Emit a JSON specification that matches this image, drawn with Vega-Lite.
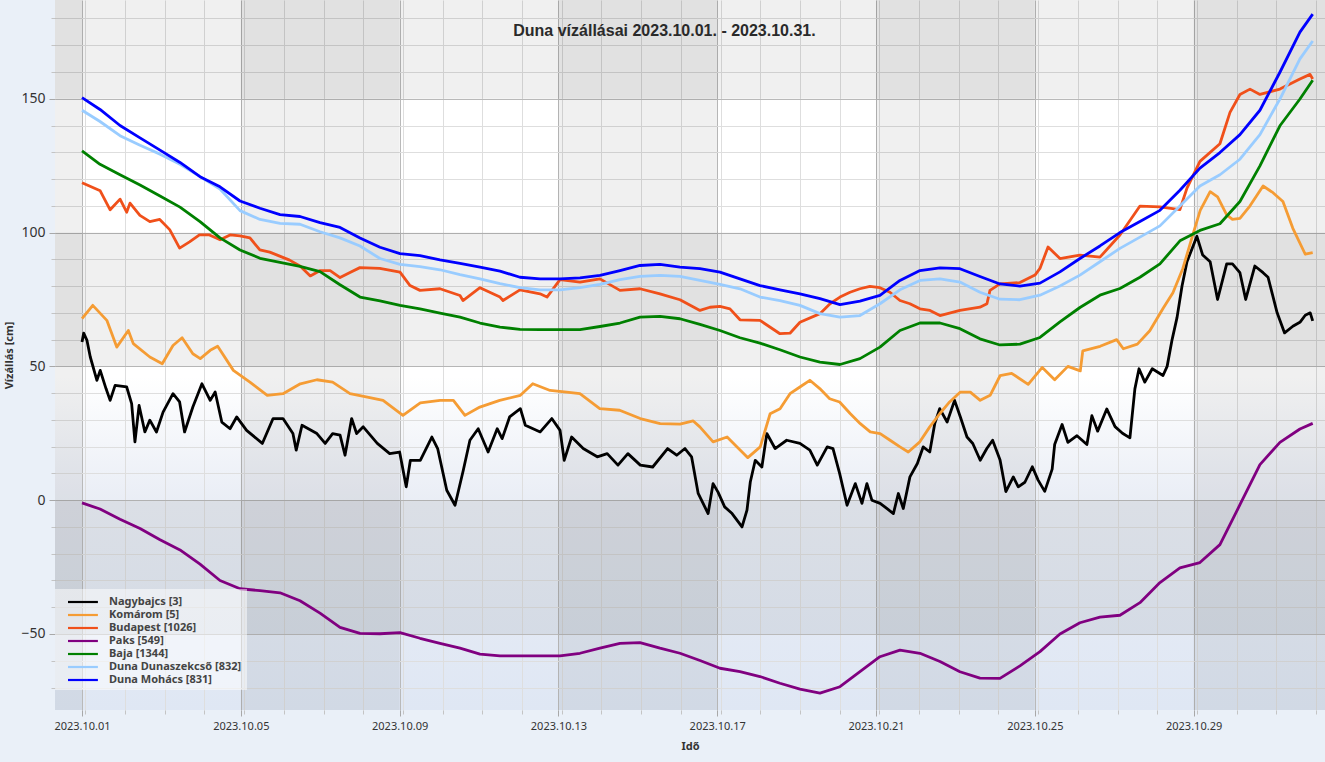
{
  "$schema": "https://vega.github.io/schema/vega-lite/v6.json",
  "description": "Duna vízállásai 2023.10.01. - 2023.10.31.",
  "width": 1270,
  "height": 710,
  "autosize": {"type": "none"},
  "padding": {"left": 55, "top": 0, "right": 0, "bottom": 52},
  "background": "#eaf0f8",
  "config": {
    "font": "Noto Sans",
    "view": {
      "stroke": null,
      "fill": {
        "gradient": "linear", "x1": 0, "y1": 0, "x2": 0, "y2": 1,
        "stops": [
          {"offset": 0, "color": "#ffffff"},
          {"offset": 0.53, "color": "#ffffff"},
          {"offset": 0.71, "color": "#e9edf5"},
          {"offset": 1, "color": "#dfe7f4"}
        ]
      }
    }
  },
  "title": {
    "text": "Duna vízállásai 2023.10.01. - 2023.10.31.",
    "font": "Liberation Sans",
    "fontSize": 16,
    "fontWeight": "bold",
    "color": "#2a2a2a",
    "anchor": "middle",
    "frame": "bounds",
    "baseline": "bottom",
    "offset": -55
  },
  "datasets": {
    "columns": [
      {"from": "2023-09-30T07:40", "to": "2023-10-01T00:00"},
      {"from": "2023-10-05T00:00", "to": "2023-10-09T00:00"},
      {"from": "2023-10-13T00:00", "to": "2023-10-17T00:00"},
      {"from": "2023-10-21T00:00", "to": "2023-10-25T00:00"},
      {"from": "2023-10-29T00:00", "to": "2023-11-01T07:26"}
    ],
    "rows": [
      {"from": 150, "to": 186.9},
      {"from": 50, "to": 100},
      {"from": -50, "to": 0}
    ],
    "levels": [
      {"station": "Nagybajcs [3]", "time": "2023-10-01T00:00", "level": 59.1},
      {"station": "Nagybajcs [3]", "time": "2023-10-01T01:00", "level": 62.4},
      {"station": "Nagybajcs [3]", "time": "2023-10-01T03:00", "level": 59.7},
      {"station": "Nagybajcs [3]", "time": "2023-10-01T05:00", "level": 53.5},
      {"station": "Nagybajcs [3]", "time": "2023-10-01T09:00", "level": 44.8},
      {"station": "Nagybajcs [3]", "time": "2023-10-01T11:00", "level": 48.5},
      {"station": "Nagybajcs [3]", "time": "2023-10-01T14:30", "level": 41.7},
      {"station": "Nagybajcs [3]", "time": "2023-10-01T17:00", "level": 37.3},
      {"station": "Nagybajcs [3]", "time": "2023-10-01T20:00", "level": 42.9},
      {"station": "Nagybajcs [3]", "time": "2023-10-02T03:00", "level": 42.3},
      {"station": "Nagybajcs [3]", "time": "2023-10-02T06:00", "level": 36.1},
      {"station": "Nagybajcs [3]", "time": "2023-10-02T08:00", "level": 21.8},
      {"station": "Nagybajcs [3]", "time": "2023-10-02T10:30", "level": 35.4},
      {"station": "Nagybajcs [3]", "time": "2023-10-02T14:00", "level": 25.5},
      {"station": "Nagybajcs [3]", "time": "2023-10-02T17:00", "level": 29.9},
      {"station": "Nagybajcs [3]", "time": "2023-10-02T21:00", "level": 25.5},
      {"station": "Nagybajcs [3]", "time": "2023-10-03T01:00", "level": 32.9},
      {"station": "Nagybajcs [3]", "time": "2023-10-03T07:00", "level": 39.8},
      {"station": "Nagybajcs [3]", "time": "2023-10-03T11:00", "level": 36.7},
      {"station": "Nagybajcs [3]", "time": "2023-10-03T14:00", "level": 25.5},
      {"station": "Nagybajcs [3]", "time": "2023-10-03T19:00", "level": 34.8},
      {"station": "Nagybajcs [3]", "time": "2023-10-04T00:30", "level": 43.5},
      {"station": "Nagybajcs [3]", "time": "2023-10-04T05:30", "level": 37.3},
      {"station": "Nagybajcs [3]", "time": "2023-10-04T08:30", "level": 40.4},
      {"station": "Nagybajcs [3]", "time": "2023-10-04T12:30", "level": 29.2},
      {"station": "Nagybajcs [3]", "time": "2023-10-04T17:30", "level": 26.7},
      {"station": "Nagybajcs [3]", "time": "2023-10-04T21:30", "level": 31.1},
      {"station": "Nagybajcs [3]", "time": "2023-10-05T03:30", "level": 26.1},
      {"station": "Nagybajcs [3]", "time": "2023-10-05T13:00", "level": 21.2},
      {"station": "Nagybajcs [3]", "time": "2023-10-05T19:30", "level": 30.5},
      {"station": "Nagybajcs [3]", "time": "2023-10-06T01:30", "level": 30.5},
      {"station": "Nagybajcs [3]", "time": "2023-10-06T07:30", "level": 24.9},
      {"station": "Nagybajcs [3]", "time": "2023-10-06T09:30", "level": 18.7},
      {"station": "Nagybajcs [3]", "time": "2023-10-06T13:00", "level": 28.0},
      {"station": "Nagybajcs [3]", "time": "2023-10-06T22:00", "level": 24.9},
      {"station": "Nagybajcs [3]", "time": "2023-10-07T03:00", "level": 21.2},
      {"station": "Nagybajcs [3]", "time": "2023-10-07T07:30", "level": 24.9},
      {"station": "Nagybajcs [3]", "time": "2023-10-07T12:00", "level": 24.3},
      {"station": "Nagybajcs [3]", "time": "2023-10-07T15:00", "level": 16.8},
      {"station": "Nagybajcs [3]", "time": "2023-10-07T19:00", "level": 30.5},
      {"station": "Nagybajcs [3]", "time": "2023-10-07T22:00", "level": 24.9},
      {"station": "Nagybajcs [3]", "time": "2023-10-08T02:00", "level": 27.4},
      {"station": "Nagybajcs [3]", "time": "2023-10-08T10:30", "level": 21.2},
      {"station": "Nagybajcs [3]", "time": "2023-10-08T18:00", "level": 17.4},
      {"station": "Nagybajcs [3]", "time": "2023-10-09T00:00", "level": 18.0},
      {"station": "Nagybajcs [3]", "time": "2023-10-09T04:00", "level": 5.0},
      {"station": "Nagybajcs [3]", "time": "2023-10-09T06:30", "level": 14.9},
      {"station": "Nagybajcs [3]", "time": "2023-10-09T12:30", "level": 14.9},
      {"station": "Nagybajcs [3]", "time": "2023-10-09T19:30", "level": 23.6},
      {"station": "Nagybajcs [3]", "time": "2023-10-09T23:00", "level": 19.3},
      {"station": "Nagybajcs [3]", "time": "2023-10-10T04:30", "level": 3.7},
      {"station": "Nagybajcs [3]", "time": "2023-10-10T09:30", "level": -1.9},
      {"station": "Nagybajcs [3]", "time": "2023-10-10T14:30", "level": 11.2},
      {"station": "Nagybajcs [3]", "time": "2023-10-10T18:30", "level": 22.4},
      {"station": "Nagybajcs [3]", "time": "2023-10-10T23:30", "level": 26.7},
      {"station": "Nagybajcs [3]", "time": "2023-10-11T05:30", "level": 18.0},
      {"station": "Nagybajcs [3]", "time": "2023-10-11T11:00", "level": 26.7},
      {"station": "Nagybajcs [3]", "time": "2023-10-11T14:00", "level": 23.0},
      {"station": "Nagybajcs [3]", "time": "2023-10-11T18:30", "level": 31.1},
      {"station": "Nagybajcs [3]", "time": "2023-10-12T01:00", "level": 34.2},
      {"station": "Nagybajcs [3]", "time": "2023-10-12T04:00", "level": 28.0},
      {"station": "Nagybajcs [3]", "time": "2023-10-12T13:00", "level": 25.5},
      {"station": "Nagybajcs [3]", "time": "2023-10-12T20:00", "level": 30.5},
      {"station": "Nagybajcs [3]", "time": "2023-10-13T01:00", "level": 26.1},
      {"station": "Nagybajcs [3]", "time": "2023-10-13T03:30", "level": 14.9},
      {"station": "Nagybajcs [3]", "time": "2023-10-13T08:00", "level": 23.6},
      {"station": "Nagybajcs [3]", "time": "2023-10-13T15:00", "level": 19.3},
      {"station": "Nagybajcs [3]", "time": "2023-10-13T23:30", "level": 16.2},
      {"station": "Nagybajcs [3]", "time": "2023-10-14T05:30", "level": 17.4},
      {"station": "Nagybajcs [3]", "time": "2023-10-14T12:00", "level": 13.1},
      {"station": "Nagybajcs [3]", "time": "2023-10-14T18:00", "level": 17.4},
      {"station": "Nagybajcs [3]", "time": "2023-10-15T01:30", "level": 13.1},
      {"station": "Nagybajcs [3]", "time": "2023-10-15T09:00", "level": 12.4},
      {"station": "Nagybajcs [3]", "time": "2023-10-15T18:00", "level": 19.3},
      {"station": "Nagybajcs [3]", "time": "2023-10-15T23:30", "level": 16.8},
      {"station": "Nagybajcs [3]", "time": "2023-10-16T04:30", "level": 19.3},
      {"station": "Nagybajcs [3]", "time": "2023-10-16T08:30", "level": 16.2},
      {"station": "Nagybajcs [3]", "time": "2023-10-16T12:30", "level": 2.5},
      {"station": "Nagybajcs [3]", "time": "2023-10-16T18:30", "level": -5.0},
      {"station": "Nagybajcs [3]", "time": "2023-10-16T21:30", "level": 6.2},
      {"station": "Nagybajcs [3]", "time": "2023-10-17T00:30", "level": 3.0},
      {"station": "Nagybajcs [3]", "time": "2023-10-17T04:30", "level": -2.5},
      {"station": "Nagybajcs [3]", "time": "2023-10-17T09:00", "level": -5.0},
      {"station": "Nagybajcs [3]", "time": "2023-10-17T15:00", "level": -10.0},
      {"station": "Nagybajcs [3]", "time": "2023-10-17T18:00", "level": -3.7},
      {"station": "Nagybajcs [3]", "time": "2023-10-17T20:00", "level": 6.8},
      {"station": "Nagybajcs [3]", "time": "2023-10-17T23:00", "level": 14.9},
      {"station": "Nagybajcs [3]", "time": "2023-10-18T03:00", "level": 12.4},
      {"station": "Nagybajcs [3]", "time": "2023-10-18T06:00", "level": 24.9},
      {"station": "Nagybajcs [3]", "time": "2023-10-18T11:00", "level": 19.3},
      {"station": "Nagybajcs [3]", "time": "2023-10-18T18:00", "level": 22.4},
      {"station": "Nagybajcs [3]", "time": "2023-10-19T02:00", "level": 21.2},
      {"station": "Nagybajcs [3]", "time": "2023-10-19T08:00", "level": 18.7},
      {"station": "Nagybajcs [3]", "time": "2023-10-19T12:30", "level": 13.1},
      {"station": "Nagybajcs [3]", "time": "2023-10-19T18:30", "level": 19.9},
      {"station": "Nagybajcs [3]", "time": "2023-10-19T22:00", "level": 19.3},
      {"station": "Nagybajcs [3]", "time": "2023-10-20T02:00", "level": 10.0},
      {"station": "Nagybajcs [3]", "time": "2023-10-20T06:30", "level": -1.9},
      {"station": "Nagybajcs [3]", "time": "2023-10-20T11:30", "level": 6.2},
      {"station": "Nagybajcs [3]", "time": "2023-10-20T15:30", "level": -1.2},
      {"station": "Nagybajcs [3]", "time": "2023-10-20T18:30", "level": 6.2},
      {"station": "Nagybajcs [3]", "time": "2023-10-20T21:30", "level": 0.0},
      {"station": "Nagybajcs [3]", "time": "2023-10-21T02:30", "level": -1.2},
      {"station": "Nagybajcs [3]", "time": "2023-10-21T06:30", "level": -3.1},
      {"station": "Nagybajcs [3]", "time": "2023-10-21T10:30", "level": -5.0},
      {"station": "Nagybajcs [3]", "time": "2023-10-21T13:30", "level": 2.5},
      {"station": "Nagybajcs [3]", "time": "2023-10-21T16:30", "level": -3.1},
      {"station": "Nagybajcs [3]", "time": "2023-10-21T20:30", "level": 8.7},
      {"station": "Nagybajcs [3]", "time": "2023-10-22T01:00", "level": 13.7},
      {"station": "Nagybajcs [3]", "time": "2023-10-22T04:30", "level": 19.9},
      {"station": "Nagybajcs [3]", "time": "2023-10-22T08:30", "level": 18.0},
      {"station": "Nagybajcs [3]", "time": "2023-10-22T11:30", "level": 28.6},
      {"station": "Nagybajcs [3]", "time": "2023-10-22T14:30", "level": 34.2},
      {"station": "Nagybajcs [3]", "time": "2023-10-22T19:00", "level": 29.2},
      {"station": "Nagybajcs [3]", "time": "2023-10-22T23:30", "level": 37.3},
      {"station": "Nagybajcs [3]", "time": "2023-10-23T03:00", "level": 31.1},
      {"station": "Nagybajcs [3]", "time": "2023-10-23T07:00", "level": 23.6},
      {"station": "Nagybajcs [3]", "time": "2023-10-23T10:30", "level": 21.2},
      {"station": "Nagybajcs [3]", "time": "2023-10-23T15:00", "level": 14.9},
      {"station": "Nagybajcs [3]", "time": "2023-10-23T19:00", "level": 19.3},
      {"station": "Nagybajcs [3]", "time": "2023-10-23T22:30", "level": 22.4},
      {"station": "Nagybajcs [3]", "time": "2023-10-24T03:00", "level": 15.0},
      {"station": "Nagybajcs [3]", "time": "2023-10-24T06:30", "level": 3.2},
      {"station": "Nagybajcs [3]", "time": "2023-10-24T11:00", "level": 8.7},
      {"station": "Nagybajcs [3]", "time": "2023-10-24T14:00", "level": 5.0},
      {"station": "Nagybajcs [3]", "time": "2023-10-24T18:00", "level": 6.7},
      {"station": "Nagybajcs [3]", "time": "2023-10-24T22:30", "level": 12.5},
      {"station": "Nagybajcs [3]", "time": "2023-10-25T02:00", "level": 7.5},
      {"station": "Nagybajcs [3]", "time": "2023-10-25T06:00", "level": 3.3},
      {"station": "Nagybajcs [3]", "time": "2023-10-25T10:30", "level": 11.6},
      {"station": "Nagybajcs [3]", "time": "2023-10-25T12:00", "level": 20.8},
      {"station": "Nagybajcs [3]", "time": "2023-10-25T16:30", "level": 28.3},
      {"station": "Nagybajcs [3]", "time": "2023-10-25T20:00", "level": 21.6},
      {"station": "Nagybajcs [3]", "time": "2023-10-26T01:30", "level": 24.1},
      {"station": "Nagybajcs [3]", "time": "2023-10-26T07:30", "level": 20.8},
      {"station": "Nagybajcs [3]", "time": "2023-10-26T10:30", "level": 31.6},
      {"station": "Nagybajcs [3]", "time": "2023-10-26T14:00", "level": 25.8},
      {"station": "Nagybajcs [3]", "time": "2023-10-26T19:30", "level": 34.1},
      {"station": "Nagybajcs [3]", "time": "2023-10-27T00:30", "level": 27.5},
      {"station": "Nagybajcs [3]", "time": "2023-10-27T05:00", "level": 25.0},
      {"station": "Nagybajcs [3]", "time": "2023-10-27T09:30", "level": 23.3},
      {"station": "Nagybajcs [3]", "time": "2023-10-27T12:30", "level": 41.6},
      {"station": "Nagybajcs [3]", "time": "2023-10-27T15:00", "level": 49.1},
      {"station": "Nagybajcs [3]", "time": "2023-10-27T18:30", "level": 44.1},
      {"station": "Nagybajcs [3]", "time": "2023-10-27T23:00", "level": 49.1},
      {"station": "Nagybajcs [3]", "time": "2023-10-28T05:30", "level": 46.6},
      {"station": "Nagybajcs [3]", "time": "2023-10-28T08:00", "level": 50.0},
      {"station": "Nagybajcs [3]", "time": "2023-10-28T11:00", "level": 60.0},
      {"station": "Nagybajcs [3]", "time": "2023-10-28T14:00", "level": 68.3},
      {"station": "Nagybajcs [3]", "time": "2023-10-28T17:00", "level": 80.0},
      {"station": "Nagybajcs [3]", "time": "2023-10-28T20:00", "level": 89.1},
      {"station": "Nagybajcs [3]", "time": "2023-10-29T02:00", "level": 98.6},
      {"station": "Nagybajcs [3]", "time": "2023-10-29T05:30", "level": 91.6},
      {"station": "Nagybajcs [3]", "time": "2023-10-29T10:00", "level": 89.1},
      {"station": "Nagybajcs [3]", "time": "2023-10-29T14:30", "level": 75.0},
      {"station": "Nagybajcs [3]", "time": "2023-10-29T20:00", "level": 88.3},
      {"station": "Nagybajcs [3]", "time": "2023-10-29T23:30", "level": 88.3},
      {"station": "Nagybajcs [3]", "time": "2023-10-30T04:00", "level": 85.0},
      {"station": "Nagybajcs [3]", "time": "2023-10-30T07:30", "level": 75.0},
      {"station": "Nagybajcs [3]", "time": "2023-10-30T13:00", "level": 87.5},
      {"station": "Nagybajcs [3]", "time": "2023-10-30T18:00", "level": 85.0},
      {"station": "Nagybajcs [3]", "time": "2023-10-30T21:00", "level": 83.3},
      {"station": "Nagybajcs [3]", "time": "2023-10-31T02:30", "level": 70.0},
      {"station": "Nagybajcs [3]", "time": "2023-10-31T07:00", "level": 62.5},
      {"station": "Nagybajcs [3]", "time": "2023-10-31T12:00", "level": 65.0},
      {"station": "Nagybajcs [3]", "time": "2023-10-31T16:30", "level": 66.6},
      {"station": "Nagybajcs [3]", "time": "2023-10-31T19:30", "level": 69.1},
      {"station": "Nagybajcs [3]", "time": "2023-10-31T22:30", "level": 70.0},
      {"station": "Nagybajcs [3]", "time": "2023-11-01T00:00", "level": 67.0},

      {"station": "Komárom [5]", "time": "2023-10-01T00:00", "level": 67.8},
      {"station": "Komárom [5]", "time": "2023-10-01T06:30", "level": 72.8},
      {"station": "Komárom [5]", "time": "2023-10-01T15:00", "level": 67.2},
      {"station": "Komárom [5]", "time": "2023-10-01T21:00", "level": 57.2},
      {"station": "Komárom [5]", "time": "2023-10-02T04:00", "level": 63.4},
      {"station": "Komárom [5]", "time": "2023-10-02T07:00", "level": 58.5},
      {"station": "Komárom [5]", "time": "2023-10-02T17:00", "level": 53.5},
      {"station": "Komárom [5]", "time": "2023-10-03T00:30", "level": 51.0},
      {"station": "Komárom [5]", "time": "2023-10-03T07:00", "level": 57.8},
      {"station": "Komárom [5]", "time": "2023-10-03T12:30", "level": 60.7},
      {"station": "Komárom [5]", "time": "2023-10-03T19:00", "level": 54.7},
      {"station": "Komárom [5]", "time": "2023-10-03T23:30", "level": 52.9},
      {"station": "Komárom [5]", "time": "2023-10-04T05:30", "level": 56.0},
      {"station": "Komárom [5]", "time": "2023-10-04T10:00", "level": 57.5},
      {"station": "Komárom [5]", "time": "2023-10-04T19:30", "level": 48.5},
      {"station": "Komárom [5]", "time": "2023-10-05T05:30", "level": 44.1},
      {"station": "Komárom [5]", "time": "2023-10-05T16:00", "level": 39.2},
      {"station": "Komárom [5]", "time": "2023-10-06T01:30", "level": 39.8},
      {"station": "Komárom [5]", "time": "2023-10-06T12:00", "level": 43.5},
      {"station": "Komárom [5]", "time": "2023-10-06T22:00", "level": 45.0},
      {"station": "Komárom [5]", "time": "2023-10-07T07:30", "level": 44.1},
      {"station": "Komárom [5]", "time": "2023-10-07T18:00", "level": 39.8},
      {"station": "Komárom [5]", "time": "2023-10-08T04:30", "level": 38.5},
      {"station": "Komárom [5]", "time": "2023-10-08T14:00", "level": 37.3},
      {"station": "Komárom [5]", "time": "2023-10-09T02:00", "level": 31.7},
      {"station": "Komárom [5]", "time": "2023-10-09T12:30", "level": 36.4},
      {"station": "Komárom [5]", "time": "2023-10-10T00:30", "level": 37.3},
      {"station": "Komárom [5]", "time": "2023-10-10T08:30", "level": 37.3},
      {"station": "Komárom [5]", "time": "2023-10-10T15:30", "level": 31.7},
      {"station": "Komárom [5]", "time": "2023-10-11T00:30", "level": 34.8},
      {"station": "Komárom [5]", "time": "2023-10-11T12:30", "level": 37.3},
      {"station": "Komárom [5]", "time": "2023-10-12T01:00", "level": 39.2},
      {"station": "Komárom [5]", "time": "2023-10-12T08:30", "level": 43.5},
      {"station": "Komárom [5]", "time": "2023-10-12T19:00", "level": 41.0},
      {"station": "Komárom [5]", "time": "2023-10-13T05:00", "level": 40.4},
      {"station": "Komárom [5]", "time": "2023-10-13T13:00", "level": 39.8},
      {"station": "Komárom [5]", "time": "2023-10-14T01:00", "level": 34.2},
      {"station": "Komárom [5]", "time": "2023-10-14T13:00", "level": 33.6},
      {"station": "Komárom [5]", "time": "2023-10-15T01:30", "level": 30.5},
      {"station": "Komárom [5]", "time": "2023-10-15T13:30", "level": 28.6},
      {"station": "Komárom [5]", "time": "2023-10-16T01:30", "level": 28.4},
      {"station": "Komárom [5]", "time": "2023-10-16T09:30", "level": 29.6},
      {"station": "Komárom [5]", "time": "2023-10-16T13:30", "level": 27.4},
      {"station": "Komárom [5]", "time": "2023-10-16T21:30", "level": 21.8},
      {"station": "Komárom [5]", "time": "2023-10-17T06:00", "level": 23.6},
      {"station": "Komárom [5]", "time": "2023-10-17T12:00", "level": 19.9},
      {"station": "Komárom [5]", "time": "2023-10-17T18:30", "level": 15.9},
      {"station": "Komárom [5]", "time": "2023-10-18T02:00", "level": 19.9},
      {"station": "Komárom [5]", "time": "2023-10-18T08:00", "level": 32.3},
      {"station": "Komárom [5]", "time": "2023-10-18T14:00", "level": 34.2},
      {"station": "Komárom [5]", "time": "2023-10-18T20:00", "level": 39.8},
      {"station": "Komárom [5]", "time": "2023-10-19T02:00", "level": 42.3},
      {"station": "Komárom [5]", "time": "2023-10-19T08:00", "level": 44.8},
      {"station": "Komárom [5]", "time": "2023-10-19T14:00", "level": 41.7},
      {"station": "Komárom [5]", "time": "2023-10-19T20:00", "level": 37.9},
      {"station": "Komárom [5]", "time": "2023-10-20T02:00", "level": 36.7},
      {"station": "Komárom [5]", "time": "2023-10-20T08:30", "level": 32.3},
      {"station": "Komárom [5]", "time": "2023-10-20T14:30", "level": 28.6},
      {"station": "Komárom [5]", "time": "2023-10-20T20:30", "level": 25.5},
      {"station": "Komárom [5]", "time": "2023-10-21T02:30", "level": 24.9},
      {"station": "Komárom [5]", "time": "2023-10-21T08:30", "level": 22.4},
      {"station": "Komárom [5]", "time": "2023-10-21T14:30", "level": 19.9},
      {"station": "Komárom [5]", "time": "2023-10-21T19:30", "level": 18.0},
      {"station": "Komárom [5]", "time": "2023-10-22T02:30", "level": 21.8},
      {"station": "Komárom [5]", "time": "2023-10-22T08:30", "level": 27.4},
      {"station": "Komárom [5]", "time": "2023-10-22T14:30", "level": 32.3},
      {"station": "Komárom [5]", "time": "2023-10-22T20:30", "level": 36.7},
      {"station": "Komárom [5]", "time": "2023-10-23T03:00", "level": 40.4},
      {"station": "Komárom [5]", "time": "2023-10-23T09:00", "level": 40.4},
      {"station": "Komárom [5]", "time": "2023-10-23T15:00", "level": 37.3},
      {"station": "Komárom [5]", "time": "2023-10-23T21:00", "level": 39.2},
      {"station": "Komárom [5]", "time": "2023-10-24T03:00", "level": 46.5},
      {"station": "Komárom [5]", "time": "2023-10-24T10:00", "level": 47.4},
      {"station": "Komárom [5]", "time": "2023-10-24T20:00", "level": 43.3},
      {"station": "Komárom [5]", "time": "2023-10-25T04:30", "level": 49.6},
      {"station": "Komárom [5]", "time": "2023-10-25T12:00", "level": 45.0},
      {"station": "Komárom [5]", "time": "2023-10-25T20:00", "level": 50.0},
      {"station": "Komárom [5]", "time": "2023-10-26T03:30", "level": 48.3},
      {"station": "Komárom [5]", "time": "2023-10-26T05:00", "level": 55.8},
      {"station": "Komárom [5]", "time": "2023-10-26T15:30", "level": 57.5},
      {"station": "Komárom [5]", "time": "2023-10-27T01:30", "level": 60.0},
      {"station": "Komárom [5]", "time": "2023-10-27T05:30", "level": 56.6},
      {"station": "Komárom [5]", "time": "2023-10-27T14:00", "level": 58.3},
      {"station": "Komárom [5]", "time": "2023-10-27T21:30", "level": 63.3},
      {"station": "Komárom [5]", "time": "2023-10-28T05:30", "level": 71.6},
      {"station": "Komárom [5]", "time": "2023-10-28T11:30", "level": 77.5},
      {"station": "Komárom [5]", "time": "2023-10-28T17:30", "level": 86.6},
      {"station": "Komárom [5]", "time": "2023-10-28T23:30", "level": 99.1},
      {"station": "Komárom [5]", "time": "2023-10-29T04:00", "level": 108.3},
      {"station": "Komárom [5]", "time": "2023-10-29T10:00", "level": 115.3},
      {"station": "Komárom [5]", "time": "2023-10-29T14:30", "level": 113.3},
      {"station": "Komárom [5]", "time": "2023-10-29T20:00", "level": 106.6},
      {"station": "Komárom [5]", "time": "2023-10-29T23:30", "level": 104.9},
      {"station": "Komárom [5]", "time": "2023-10-30T04:00", "level": 105.3},
      {"station": "Komárom [5]", "time": "2023-10-30T10:00", "level": 109.9},
      {"station": "Komárom [5]", "time": "2023-10-30T18:00", "level": 117.4},
      {"station": "Komárom [5]", "time": "2023-10-31T00:00", "level": 114.9},
      {"station": "Komárom [5]", "time": "2023-10-31T06:00", "level": 111.6},
      {"station": "Komárom [5]", "time": "2023-10-31T12:00", "level": 101.6},
      {"station": "Komárom [5]", "time": "2023-10-31T19:30", "level": 91.9},
      {"station": "Komárom [5]", "time": "2023-11-01T00:00", "level": 92.5},

      {"station": "Budapest [1026]", "time": "2023-10-01T00:00", "level": 118.6},
      {"station": "Budapest [1026]", "time": "2023-10-01T11:00", "level": 115.6},
      {"station": "Budapest [1026]", "time": "2023-10-01T17:00", "level": 108.5},
      {"station": "Budapest [1026]", "time": "2023-10-01T23:00", "level": 112.5},
      {"station": "Budapest [1026]", "time": "2023-10-02T03:00", "level": 107.6},
      {"station": "Budapest [1026]", "time": "2023-10-02T05:00", "level": 111.0},
      {"station": "Budapest [1026]", "time": "2023-10-02T11:00", "level": 106.4},
      {"station": "Budapest [1026]", "time": "2023-10-02T17:00", "level": 104.1},
      {"station": "Budapest [1026]", "time": "2023-10-02T23:00", "level": 104.9},
      {"station": "Budapest [1026]", "time": "2023-10-03T05:00", "level": 101.1},
      {"station": "Budapest [1026]", "time": "2023-10-03T11:00", "level": 94.2},
      {"station": "Budapest [1026]", "time": "2023-10-03T17:00", "level": 96.5},
      {"station": "Budapest [1026]", "time": "2023-10-03T23:00", "level": 99.1},
      {"station": "Budapest [1026]", "time": "2023-10-04T05:00", "level": 99.1},
      {"station": "Budapest [1026]", "time": "2023-10-04T11:30", "level": 97.3},
      {"station": "Budapest [1026]", "time": "2023-10-04T17:30", "level": 99.1},
      {"station": "Budapest [1026]", "time": "2023-10-04T23:30", "level": 98.8},
      {"station": "Budapest [1026]", "time": "2023-10-05T05:30", "level": 98.0},
      {"station": "Budapest [1026]", "time": "2023-10-05T11:30", "level": 93.5},
      {"station": "Budapest [1026]", "time": "2023-10-05T17:30", "level": 92.7},
      {"station": "Budapest [1026]", "time": "2023-10-05T23:30", "level": 91.2},
      {"station": "Budapest [1026]", "time": "2023-10-06T05:30", "level": 89.7},
      {"station": "Budapest [1026]", "time": "2023-10-06T12:00", "level": 87.4},
      {"station": "Budapest [1026]", "time": "2023-10-06T18:00", "level": 83.8},
      {"station": "Budapest [1026]", "time": "2023-10-07T00:00", "level": 85.8},
      {"station": "Budapest [1026]", "time": "2023-10-07T06:00", "level": 85.8},
      {"station": "Budapest [1026]", "time": "2023-10-07T12:00", "level": 83.2},
      {"station": "Budapest [1026]", "time": "2023-10-07T18:00", "level": 85.1},
      {"station": "Budapest [1026]", "time": "2023-10-08T00:00", "level": 86.9},
      {"station": "Budapest [1026]", "time": "2023-10-08T12:00", "level": 86.6},
      {"station": "Budapest [1026]", "time": "2023-10-09T00:14", "level": 85.2},
      {"station": "Budapest [1026]", "time": "2023-10-09T06:18", "level": 80.2},
      {"station": "Budapest [1026]", "time": "2023-10-09T12:19", "level": 78.4},
      {"station": "Budapest [1026]", "time": "2023-10-10T00:25", "level": 79.0},
      {"station": "Budapest [1026]", "time": "2023-10-10T12:30", "level": 76.5},
      {"station": "Budapest [1026]", "time": "2023-10-10T14:18", "level": 74.6},
      {"station": "Budapest [1026]", "time": "2023-10-11T00:35", "level": 79.4},
      {"station": "Budapest [1026]", "time": "2023-10-11T12:41", "level": 75.9},
      {"station": "Budapest [1026]", "time": "2023-10-11T14:30", "level": 74.6},
      {"station": "Budapest [1026]", "time": "2023-10-12T00:46", "level": 78.6},
      {"station": "Budapest [1026]", "time": "2023-10-12T12:52", "level": 77.1},
      {"station": "Budapest [1026]", "time": "2023-10-12T17:06", "level": 75.9},
      {"station": "Budapest [1026]", "time": "2023-10-13T00:57", "level": 82.4},
      {"station": "Budapest [1026]", "time": "2023-10-13T13:02", "level": 81.5},
      {"station": "Budapest [1026]", "time": "2023-10-14T01:08", "level": 82.7},
      {"station": "Budapest [1026]", "time": "2023-10-14T13:13", "level": 78.4},
      {"station": "Budapest [1026]", "time": "2023-10-15T01:19", "level": 79.0},
      {"station": "Budapest [1026]", "time": "2023-10-15T13:24", "level": 77.1},
      {"station": "Budapest [1026]", "time": "2023-10-16T01:29", "level": 74.9},
      {"station": "Budapest [1026]", "time": "2023-10-16T13:35", "level": 70.9},
      {"station": "Budapest [1026]", "time": "2023-10-16T19:36", "level": 72.1},
      {"station": "Budapest [1026]", "time": "2023-10-17T01:40", "level": 72.4},
      {"station": "Budapest [1026]", "time": "2023-10-17T07:42", "level": 71.5},
      {"station": "Budapest [1026]", "time": "2023-10-17T13:46", "level": 67.4},
      {"station": "Budapest [1026]", "time": "2023-10-18T01:51", "level": 67.2},
      {"station": "Budapest [1026]", "time": "2023-10-18T13:56", "level": 62.2},
      {"station": "Budapest [1026]", "time": "2023-10-18T20:00", "level": 62.4},
      {"station": "Budapest [1026]", "time": "2023-10-19T02:02", "level": 66.5},
      {"station": "Budapest [1026]", "time": "2023-10-19T14:07", "level": 69.7},
      {"station": "Budapest [1026]", "time": "2023-10-19T20:12", "level": 73.4},
      {"station": "Budapest [1026]", "time": "2023-10-20T02:13", "level": 75.9},
      {"station": "Budapest [1026]", "time": "2023-10-20T08:18", "level": 77.7},
      {"station": "Budapest [1026]", "time": "2023-10-20T14:18", "level": 79.0},
      {"station": "Budapest [1026]", "time": "2023-10-20T20:18", "level": 79.9},
      {"station": "Budapest [1026]", "time": "2023-10-21T02:23", "level": 79.4},
      {"station": "Budapest [1026]", "time": "2023-10-21T08:24", "level": 77.7},
      {"station": "Budapest [1026]", "time": "2023-10-21T14:29", "level": 74.6},
      {"station": "Budapest [1026]", "time": "2023-10-21T20:30", "level": 73.4},
      {"station": "Budapest [1026]", "time": "2023-10-22T02:34", "level": 71.5},
      {"station": "Budapest [1026]", "time": "2023-10-22T08:36", "level": 70.9},
      {"station": "Budapest [1026]", "time": "2023-10-22T14:40", "level": 69.0},
      {"station": "Budapest [1026]", "time": "2023-10-23T02:45", "level": 70.9},
      {"station": "Budapest [1026]", "time": "2023-10-23T14:50", "level": 72.1},
      {"station": "Budapest [1026]", "time": "2023-10-23T19:04", "level": 73.4},
      {"station": "Budapest [1026]", "time": "2023-10-23T20:54", "level": 78.4},
      {"station": "Budapest [1026]", "time": "2023-10-24T02:56", "level": 80.8},
      {"station": "Budapest [1026]", "time": "2023-10-24T15:01", "level": 81.3},
      {"station": "Budapest [1026]", "time": "2023-10-25T00:06", "level": 84.1},
      {"station": "Budapest [1026]", "time": "2023-10-25T03:07", "level": 86.6},
      {"station": "Budapest [1026]", "time": "2023-10-25T08:00", "level": 94.6},
      {"station": "Budapest [1026]", "time": "2023-10-25T15:12", "level": 90.3},
      {"station": "Budapest [1026]", "time": "2023-10-26T03:17", "level": 91.6},
      {"station": "Budapest [1026]", "time": "2023-10-26T15:23", "level": 90.8},
      {"station": "Budapest [1026]", "time": "2023-10-27T03:28", "level": 99.1},
      {"station": "Budapest [1026]", "time": "2023-10-27T15:34", "level": 109.9},
      {"station": "Budapest [1026]", "time": "2023-10-28T03:39", "level": 109.6},
      {"station": "Budapest [1026]", "time": "2023-10-28T15:44", "level": 108.6},
      {"station": "Budapest [1026]", "time": "2023-10-28T20:00", "level": 116.6},
      {"station": "Budapest [1026]", "time": "2023-10-29T03:50", "level": 126.6},
      {"station": "Budapest [1026]", "time": "2023-10-29T15:55", "level": 133.2},
      {"station": "Budapest [1026]", "time": "2023-10-29T22:00", "level": 144.9},
      {"station": "Budapest [1026]", "time": "2023-10-30T04:01", "level": 151.6},
      {"station": "Budapest [1026]", "time": "2023-10-30T10:06", "level": 153.6},
      {"station": "Budapest [1026]", "time": "2023-10-30T16:06", "level": 151.6},
      {"station": "Budapest [1026]", "time": "2023-10-31T04:11", "level": 153.6},
      {"station": "Budapest [1026]", "time": "2023-10-31T16:17", "level": 157.4},
      {"station": "Budapest [1026]", "time": "2023-10-31T22:24", "level": 159.1},
      {"station": "Budapest [1026]", "time": "2023-11-01T00:00", "level": 157.4},

      {"station": "Paks [549]", "time": "2023-10-01T00:00", "level": -1.0},
      {"station": "Paks [549]", "time": "2023-10-01T10:53", "level": -3.3},
      {"station": "Paks [549]", "time": "2023-10-01T22:58", "level": -7.1},
      {"station": "Paks [549]", "time": "2023-10-02T11:04", "level": -10.6},
      {"station": "Paks [549]", "time": "2023-10-02T23:09", "level": -14.8},
      {"station": "Paks [549]", "time": "2023-10-03T11:14", "level": -18.6},
      {"station": "Paks [549]", "time": "2023-10-03T23:20", "level": -23.9},
      {"station": "Paks [549]", "time": "2023-10-04T11:25", "level": -30.0},
      {"station": "Paks [549]", "time": "2023-10-04T23:31", "level": -33.1},
      {"station": "Paks [549]", "time": "2023-10-05T11:36", "level": -33.8},
      {"station": "Paks [549]", "time": "2023-10-05T23:41", "level": -34.6},
      {"station": "Paks [549]", "time": "2023-10-06T11:47", "level": -37.6},
      {"station": "Paks [549]", "time": "2023-10-06T23:52", "level": -42.2},
      {"station": "Paks [549]", "time": "2023-10-07T11:58", "level": -47.5},
      {"station": "Paks [549]", "time": "2023-10-08T00:03", "level": -49.8},
      {"station": "Paks [549]", "time": "2023-10-08T12:08", "level": -49.9},
      {"station": "Paks [549]", "time": "2023-10-09T00:14", "level": -49.5},
      {"station": "Paks [549]", "time": "2023-10-09T12:19", "level": -51.6},
      {"station": "Paks [549]", "time": "2023-10-10T00:25", "level": -53.5},
      {"station": "Paks [549]", "time": "2023-10-10T12:30", "level": -55.3},
      {"station": "Paks [549]", "time": "2023-10-11T00:35", "level": -57.5},
      {"station": "Paks [549]", "time": "2023-10-11T12:41", "level": -58.2},
      {"station": "Paks [549]", "time": "2023-10-12T00:46", "level": -58.2},
      {"station": "Paks [549]", "time": "2023-10-12T12:52", "level": -58.2},
      {"station": "Paks [549]", "time": "2023-10-13T00:57", "level": -58.2},
      {"station": "Paks [549]", "time": "2023-10-13T13:02", "level": -57.2},
      {"station": "Paks [549]", "time": "2023-10-14T01:08", "level": -55.3},
      {"station": "Paks [549]", "time": "2023-10-14T13:13", "level": -53.5},
      {"station": "Paks [549]", "time": "2023-10-15T01:19", "level": -53.2},
      {"station": "Paks [549]", "time": "2023-10-15T13:24", "level": -55.3},
      {"station": "Paks [549]", "time": "2023-10-16T01:29", "level": -57.2},
      {"station": "Paks [549]", "time": "2023-10-16T13:35", "level": -59.9},
      {"station": "Paks [549]", "time": "2023-10-17T01:40", "level": -62.8},
      {"station": "Paks [549]", "time": "2023-10-17T13:46", "level": -64.1},
      {"station": "Paks [549]", "time": "2023-10-18T01:51", "level": -65.9},
      {"station": "Paks [549]", "time": "2023-10-18T13:56", "level": -68.4},
      {"station": "Paks [549]", "time": "2023-10-19T02:02", "level": -70.6},
      {"station": "Paks [549]", "time": "2023-10-19T14:07", "level": -72.1},
      {"station": "Paks [549]", "time": "2023-10-20T02:13", "level": -69.7},
      {"station": "Paks [549]", "time": "2023-10-20T14:18", "level": -64.1},
      {"station": "Paks [549]", "time": "2023-10-21T02:23", "level": -58.5},
      {"station": "Paks [549]", "time": "2023-10-21T14:29", "level": -56.0},
      {"station": "Paks [549]", "time": "2023-10-22T02:34", "level": -57.2},
      {"station": "Paks [549]", "time": "2023-10-22T14:40", "level": -60.3},
      {"station": "Paks [549]", "time": "2023-10-23T02:45", "level": -64.1},
      {"station": "Paks [549]", "time": "2023-10-23T14:50", "level": -66.5},
      {"station": "Paks [549]", "time": "2023-10-24T02:56", "level": -66.6},
      {"station": "Paks [549]", "time": "2023-10-24T15:01", "level": -61.9},
      {"station": "Paks [549]", "time": "2023-10-25T03:07", "level": -56.6},
      {"station": "Paks [549]", "time": "2023-10-25T15:12", "level": -50.0},
      {"station": "Paks [549]", "time": "2023-10-26T03:17", "level": -45.8},
      {"station": "Paks [549]", "time": "2023-10-26T15:23", "level": -43.7},
      {"station": "Paks [549]", "time": "2023-10-27T03:28", "level": -43.0},
      {"station": "Paks [549]", "time": "2023-10-27T15:34", "level": -38.3},
      {"station": "Paks [549]", "time": "2023-10-28T03:39", "level": -30.8},
      {"station": "Paks [549]", "time": "2023-10-28T15:44", "level": -25.3},
      {"station": "Paks [549]", "time": "2023-10-29T03:50", "level": -23.3},
      {"station": "Paks [549]", "time": "2023-10-29T15:55", "level": -16.6},
      {"station": "Paks [549]", "time": "2023-10-30T04:01", "level": -1.7},
      {"station": "Paks [549]", "time": "2023-10-30T16:06", "level": 13.3},
      {"station": "Paks [549]", "time": "2023-10-31T04:11", "level": 21.6},
      {"station": "Paks [549]", "time": "2023-10-31T16:17", "level": 26.6},
      {"station": "Paks [549]", "time": "2023-11-01T00:00", "level": 28.7},

      {"station": "Baja [1344]", "time": "2023-10-01T00:00", "level": 130.5},
      {"station": "Baja [1344]", "time": "2023-10-01T10:53", "level": 125.5},
      {"station": "Baja [1344]", "time": "2023-10-01T22:58", "level": 121.6},
      {"station": "Baja [1344]", "time": "2023-10-02T11:04", "level": 117.8},
      {"station": "Baja [1344]", "time": "2023-10-02T23:09", "level": 113.7},
      {"station": "Baja [1344]", "time": "2023-10-03T11:14", "level": 109.5},
      {"station": "Baja [1344]", "time": "2023-10-03T23:20", "level": 104.1},
      {"station": "Baja [1344]", "time": "2023-10-04T11:25", "level": 98.0},
      {"station": "Baja [1344]", "time": "2023-10-04T23:31", "level": 93.5},
      {"station": "Baja [1344]", "time": "2023-10-05T11:36", "level": 90.4},
      {"station": "Baja [1344]", "time": "2023-10-05T23:41", "level": 88.9},
      {"station": "Baja [1344]", "time": "2023-10-06T11:47", "level": 87.4},
      {"station": "Baja [1344]", "time": "2023-10-06T23:52", "level": 85.4},
      {"station": "Baja [1344]", "time": "2023-10-07T11:58", "level": 80.5},
      {"station": "Baja [1344]", "time": "2023-10-08T00:03", "level": 75.9},
      {"station": "Baja [1344]", "time": "2023-10-08T12:08", "level": 74.5},
      {"station": "Baja [1344]", "time": "2023-10-09T00:14", "level": 72.8},
      {"station": "Baja [1344]", "time": "2023-10-09T12:19", "level": 71.5},
      {"station": "Baja [1344]", "time": "2023-10-10T00:25", "level": 69.9},
      {"station": "Baja [1344]", "time": "2023-10-10T12:30", "level": 68.4},
      {"station": "Baja [1344]", "time": "2023-10-11T00:35", "level": 66.2},
      {"station": "Baja [1344]", "time": "2023-10-11T12:41", "level": 64.7},
      {"station": "Baja [1344]", "time": "2023-10-12T00:46", "level": 63.8},
      {"station": "Baja [1344]", "time": "2023-10-12T12:52", "level": 63.7},
      {"station": "Baja [1344]", "time": "2023-10-13T00:57", "level": 63.7},
      {"station": "Baja [1344]", "time": "2023-10-13T13:02", "level": 63.7},
      {"station": "Baja [1344]", "time": "2023-10-14T01:08", "level": 64.9},
      {"station": "Baja [1344]", "time": "2023-10-14T13:13", "level": 66.2},
      {"station": "Baja [1344]", "time": "2023-10-15T01:19", "level": 68.4},
      {"station": "Baja [1344]", "time": "2023-10-15T13:24", "level": 68.7},
      {"station": "Baja [1344]", "time": "2023-10-16T01:29", "level": 67.8},
      {"station": "Baja [1344]", "time": "2023-10-16T13:35", "level": 65.7},
      {"station": "Baja [1344]", "time": "2023-10-17T01:40", "level": 63.4},
      {"station": "Baja [1344]", "time": "2023-10-17T13:46", "level": 60.7},
      {"station": "Baja [1344]", "time": "2023-10-18T01:51", "level": 58.7},
      {"station": "Baja [1344]", "time": "2023-10-18T13:56", "level": 56.2},
      {"station": "Baja [1344]", "time": "2023-10-19T02:02", "level": 53.5},
      {"station": "Baja [1344]", "time": "2023-10-19T14:07", "level": 51.6},
      {"station": "Baja [1344]", "time": "2023-10-20T02:13", "level": 50.7},
      {"station": "Baja [1344]", "time": "2023-10-20T14:18", "level": 52.9},
      {"station": "Baja [1344]", "time": "2023-10-21T02:23", "level": 57.2},
      {"station": "Baja [1344]", "time": "2023-10-21T14:29", "level": 63.4},
      {"station": "Baja [1344]", "time": "2023-10-22T02:34", "level": 66.2},
      {"station": "Baja [1344]", "time": "2023-10-22T14:40", "level": 66.2},
      {"station": "Baja [1344]", "time": "2023-10-23T02:45", "level": 64.1},
      {"station": "Baja [1344]", "time": "2023-10-23T14:50", "level": 60.3},
      {"station": "Baja [1344]", "time": "2023-10-24T02:56", "level": 58.0},
      {"station": "Baja [1344]", "time": "2023-10-24T15:01", "level": 58.3},
      {"station": "Baja [1344]", "time": "2023-10-25T03:07", "level": 60.8},
      {"station": "Baja [1344]", "time": "2023-10-25T15:12", "level": 66.6},
      {"station": "Baja [1344]", "time": "2023-10-26T03:17", "level": 72.0},
      {"station": "Baja [1344]", "time": "2023-10-26T15:23", "level": 76.6},
      {"station": "Baja [1344]", "time": "2023-10-27T03:28", "level": 79.1},
      {"station": "Baja [1344]", "time": "2023-10-27T15:34", "level": 83.3},
      {"station": "Baja [1344]", "time": "2023-10-28T03:39", "level": 88.3},
      {"station": "Baja [1344]", "time": "2023-10-28T15:44", "level": 96.9},
      {"station": "Baja [1344]", "time": "2023-10-29T03:50", "level": 100.8},
      {"station": "Baja [1344]", "time": "2023-10-29T15:55", "level": 103.3},
      {"station": "Baja [1344]", "time": "2023-10-30T04:01", "level": 111.6},
      {"station": "Baja [1344]", "time": "2023-10-30T16:06", "level": 124.9},
      {"station": "Baja [1344]", "time": "2023-10-31T04:11", "level": 139.9},
      {"station": "Baja [1344]", "time": "2023-10-31T16:17", "level": 149.9},
      {"station": "Baja [1344]", "time": "2023-11-01T00:00", "level": 156.9},

      {"station": "Duna Dunaszekcső [832]", "time": "2023-10-01T00:00", "level": 145.7},
      {"station": "Duna Dunaszekcső [832]", "time": "2023-10-01T10:53", "level": 141.5},
      {"station": "Duna Dunaszekcső [832]", "time": "2023-10-01T22:58", "level": 136.2},
      {"station": "Duna Dunaszekcső [832]", "time": "2023-10-02T11:04", "level": 132.6},
      {"station": "Duna Dunaszekcső [832]", "time": "2023-10-02T23:09", "level": 129.3},
      {"station": "Duna Dunaszekcső [832]", "time": "2023-10-03T11:14", "level": 125.5},
      {"station": "Duna Dunaszekcső [832]", "time": "2023-10-03T23:20", "level": 120.9},
      {"station": "Duna Dunaszekcső [832]", "time": "2023-10-04T11:25", "level": 116.3},
      {"station": "Duna Dunaszekcső [832]", "time": "2023-10-04T23:31", "level": 108.2},
      {"station": "Duna Dunaszekcső [832]", "time": "2023-10-05T11:36", "level": 104.9},
      {"station": "Duna Dunaszekcső [832]", "time": "2023-10-05T23:41", "level": 103.4},
      {"station": "Duna Dunaszekcső [832]", "time": "2023-10-06T11:47", "level": 103.1},
      {"station": "Duna Dunaszekcső [832]", "time": "2023-10-06T23:52", "level": 100.3},
      {"station": "Duna Dunaszekcső [832]", "time": "2023-10-07T11:58", "level": 98.0},
      {"station": "Duna Dunaszekcső [832]", "time": "2023-10-08T00:03", "level": 95.0},
      {"station": "Duna Dunaszekcső [832]", "time": "2023-10-08T12:08", "level": 90.3},
      {"station": "Duna Dunaszekcső [832]", "time": "2023-10-09T00:14", "level": 88.1},
      {"station": "Duna Dunaszekcső [832]", "time": "2023-10-09T12:19", "level": 87.3},
      {"station": "Duna Dunaszekcső [832]", "time": "2023-10-10T00:25", "level": 86.1},
      {"station": "Duna Dunaszekcső [832]", "time": "2023-10-10T12:30", "level": 84.3},
      {"station": "Duna Dunaszekcső [832]", "time": "2023-10-11T00:35", "level": 82.7},
      {"station": "Duna Dunaszekcső [832]", "time": "2023-10-11T12:41", "level": 80.9},
      {"station": "Duna Dunaszekcső [832]", "time": "2023-10-12T00:46", "level": 79.4},
      {"station": "Duna Dunaszekcső [832]", "time": "2023-10-12T12:52", "level": 78.6},
      {"station": "Duna Dunaszekcső [832]", "time": "2023-10-13T00:57", "level": 78.6},
      {"station": "Duna Dunaszekcső [832]", "time": "2023-10-13T13:02", "level": 79.4},
      {"station": "Duna Dunaszekcső [832]", "time": "2023-10-14T01:08", "level": 80.6},
      {"station": "Duna Dunaszekcső [832]", "time": "2023-10-14T13:13", "level": 82.4},
      {"station": "Duna Dunaszekcső [832]", "time": "2023-10-15T01:19", "level": 83.6},
      {"station": "Duna Dunaszekcső [832]", "time": "2023-10-15T13:24", "level": 84.0},
      {"station": "Duna Dunaszekcső [832]", "time": "2023-10-16T01:29", "level": 83.6},
      {"station": "Duna Dunaszekcső [832]", "time": "2023-10-16T13:35", "level": 82.1},
      {"station": "Duna Dunaszekcső [832]", "time": "2023-10-17T01:40", "level": 80.6},
      {"station": "Duna Dunaszekcső [832]", "time": "2023-10-17T13:46", "level": 79.0},
      {"station": "Duna Dunaszekcső [832]", "time": "2023-10-18T01:51", "level": 75.9},
      {"station": "Duna Dunaszekcső [832]", "time": "2023-10-18T13:56", "level": 74.6},
      {"station": "Duna Dunaszekcső [832]", "time": "2023-10-19T02:02", "level": 72.8},
      {"station": "Duna Dunaszekcső [832]", "time": "2023-10-19T14:07", "level": 69.7},
      {"station": "Duna Dunaszekcső [832]", "time": "2023-10-20T02:13", "level": 68.4},
      {"station": "Duna Dunaszekcső [832]", "time": "2023-10-20T14:18", "level": 69.0},
      {"station": "Duna Dunaszekcső [832]", "time": "2023-10-21T02:23", "level": 73.4},
      {"station": "Duna Dunaszekcső [832]", "time": "2023-10-21T14:29", "level": 78.6},
      {"station": "Duna Dunaszekcső [832]", "time": "2023-10-22T02:34", "level": 82.1},
      {"station": "Duna Dunaszekcső [832]", "time": "2023-10-22T14:40", "level": 82.7},
      {"station": "Duna Dunaszekcső [832]", "time": "2023-10-23T02:45", "level": 81.5},
      {"station": "Duna Dunaszekcső [832]", "time": "2023-10-23T14:50", "level": 77.7},
      {"station": "Duna Dunaszekcső [832]", "time": "2023-10-24T02:56", "level": 75.1},
      {"station": "Duna Dunaszekcső [832]", "time": "2023-10-24T15:01", "level": 74.9},
      {"station": "Duna Dunaszekcső [832]", "time": "2023-10-25T03:07", "level": 76.6},
      {"station": "Duna Dunaszekcső [832]", "time": "2023-10-25T15:12", "level": 80.0},
      {"station": "Duna Dunaszekcső [832]", "time": "2023-10-26T03:17", "level": 84.1},
      {"station": "Duna Dunaszekcső [832]", "time": "2023-10-26T15:23", "level": 89.1},
      {"station": "Duna Dunaszekcső [832]", "time": "2023-10-27T03:28", "level": 94.1},
      {"station": "Duna Dunaszekcső [832]", "time": "2023-10-27T15:34", "level": 98.3},
      {"station": "Duna Dunaszekcső [832]", "time": "2023-10-28T03:39", "level": 102.5},
      {"station": "Duna Dunaszekcső [832]", "time": "2023-10-28T15:44", "level": 109.9},
      {"station": "Duna Dunaszekcső [832]", "time": "2023-10-29T03:50", "level": 117.4},
      {"station": "Duna Dunaszekcső [832]", "time": "2023-10-29T15:55", "level": 121.6},
      {"station": "Duna Dunaszekcső [832]", "time": "2023-10-30T04:01", "level": 127.4},
      {"station": "Duna Dunaszekcső [832]", "time": "2023-10-30T16:06", "level": 136.6},
      {"station": "Duna Dunaszekcső [832]", "time": "2023-10-31T04:11", "level": 149.9},
      {"station": "Duna Dunaszekcső [832]", "time": "2023-10-31T16:17", "level": 164.9},
      {"station": "Duna Dunaszekcső [832]", "time": "2023-11-01T00:00", "level": 171.6},

      {"station": "Duna Mohács [831]", "time": "2023-10-01T00:00", "level": 150.4},
      {"station": "Duna Mohács [831]", "time": "2023-10-01T10:53", "level": 146.0},
      {"station": "Duna Mohács [831]", "time": "2023-10-01T22:58", "level": 140.0},
      {"station": "Duna Mohács [831]", "time": "2023-10-02T11:04", "level": 135.4},
      {"station": "Duna Mohács [831]", "time": "2023-10-02T23:09", "level": 130.8},
      {"station": "Duna Mohács [831]", "time": "2023-10-03T11:14", "level": 126.2},
      {"station": "Duna Mohács [831]", "time": "2023-10-03T23:20", "level": 120.9},
      {"station": "Duna Mohács [831]", "time": "2023-10-04T11:25", "level": 117.1},
      {"station": "Duna Mohács [831]", "time": "2023-10-04T23:31", "level": 111.8},
      {"station": "Duna Mohács [831]", "time": "2023-10-05T11:36", "level": 109.1},
      {"station": "Duna Mohács [831]", "time": "2023-10-05T23:41", "level": 106.7},
      {"station": "Duna Mohács [831]", "time": "2023-10-06T11:47", "level": 106.0},
      {"station": "Duna Mohács [831]", "time": "2023-10-06T23:52", "level": 103.7},
      {"station": "Duna Mohács [831]", "time": "2023-10-07T11:58", "level": 101.9},
      {"station": "Duna Mohács [831]", "time": "2023-10-08T00:03", "level": 98.0},
      {"station": "Duna Mohács [831]", "time": "2023-10-08T12:08", "level": 94.5},
      {"station": "Duna Mohács [831]", "time": "2023-10-09T00:14", "level": 92.1},
      {"station": "Duna Mohács [831]", "time": "2023-10-09T12:19", "level": 91.4},
      {"station": "Duna Mohács [831]", "time": "2023-10-10T00:25", "level": 89.8},
      {"station": "Duna Mohács [831]", "time": "2023-10-10T12:30", "level": 88.5},
      {"station": "Duna Mohács [831]", "time": "2023-10-11T00:35", "level": 87.1},
      {"station": "Duna Mohács [831]", "time": "2023-10-11T12:41", "level": 85.6},
      {"station": "Duna Mohács [831]", "time": "2023-10-12T00:46", "level": 83.3},
      {"station": "Duna Mohács [831]", "time": "2023-10-12T12:52", "level": 82.7},
      {"station": "Duna Mohács [831]", "time": "2023-10-13T00:57", "level": 82.7},
      {"station": "Duna Mohács [831]", "time": "2023-10-13T13:02", "level": 83.1},
      {"station": "Duna Mohács [831]", "time": "2023-10-14T01:08", "level": 84.0},
      {"station": "Duna Mohács [831]", "time": "2023-10-14T13:13", "level": 85.8},
      {"station": "Duna Mohács [831]", "time": "2023-10-15T01:19", "level": 87.7},
      {"station": "Duna Mohács [831]", "time": "2023-10-15T13:24", "level": 88.1},
      {"station": "Duna Mohács [831]", "time": "2023-10-16T01:29", "level": 87.1},
      {"station": "Duna Mohács [831]", "time": "2023-10-16T13:35", "level": 86.5},
      {"station": "Duna Mohács [831]", "time": "2023-10-17T01:40", "level": 85.2},
      {"station": "Duna Mohács [831]", "time": "2023-10-17T13:46", "level": 82.7},
      {"station": "Duna Mohács [831]", "time": "2023-10-18T01:51", "level": 80.2},
      {"station": "Duna Mohács [831]", "time": "2023-10-18T13:56", "level": 78.6},
      {"station": "Duna Mohács [831]", "time": "2023-10-19T02:02", "level": 77.1},
      {"station": "Duna Mohács [831]", "time": "2023-10-19T14:07", "level": 75.3},
      {"station": "Duna Mohács [831]", "time": "2023-10-20T02:13", "level": 73.1},
      {"station": "Duna Mohács [831]", "time": "2023-10-20T14:18", "level": 74.4},
      {"station": "Duna Mohács [831]", "time": "2023-10-21T02:23", "level": 76.5},
      {"station": "Duna Mohács [831]", "time": "2023-10-21T14:29", "level": 82.1},
      {"station": "Duna Mohács [831]", "time": "2023-10-22T02:34", "level": 85.8},
      {"station": "Duna Mohács [831]", "time": "2023-10-22T14:40", "level": 86.8},
      {"station": "Duna Mohács [831]", "time": "2023-10-23T02:45", "level": 86.5},
      {"station": "Duna Mohács [831]", "time": "2023-10-23T14:50", "level": 83.6},
      {"station": "Duna Mohács [831]", "time": "2023-10-24T02:56", "level": 80.8},
      {"station": "Duna Mohács [831]", "time": "2023-10-24T15:01", "level": 80.0},
      {"station": "Duna Mohács [831]", "time": "2023-10-25T03:07", "level": 81.1},
      {"station": "Duna Mohács [831]", "time": "2023-10-25T15:12", "level": 85.3},
      {"station": "Duna Mohács [831]", "time": "2023-10-26T03:17", "level": 90.3},
      {"station": "Duna Mohács [831]", "time": "2023-10-26T15:23", "level": 95.0},
      {"station": "Duna Mohács [831]", "time": "2023-10-27T03:28", "level": 100.0},
      {"station": "Duna Mohács [831]", "time": "2023-10-27T15:34", "level": 104.1},
      {"station": "Duna Mohács [831]", "time": "2023-10-28T03:39", "level": 108.3},
      {"station": "Duna Mohács [831]", "time": "2023-10-28T15:44", "level": 115.8},
      {"station": "Duna Mohács [831]", "time": "2023-10-29T03:50", "level": 124.1},
      {"station": "Duna Mohács [831]", "time": "2023-10-29T15:55", "level": 129.9},
      {"station": "Duna Mohács [831]", "time": "2023-10-30T04:01", "level": 136.6},
      {"station": "Duna Mohács [831]", "time": "2023-10-30T16:06", "level": 145.7},
      {"station": "Duna Mohács [831]", "time": "2023-10-31T04:11", "level": 159.9},
      {"station": "Duna Mohács [831]", "time": "2023-10-31T16:17", "level": 174.9},
      {"station": "Duna Mohács [831]", "time": "2023-11-01T00:00", "level": 181.6}
    ]
  },
  "layer": [
    {
      "data": {"name": "columns"},
      "mark": {"type": "rect", "fill": "#000000", "fillOpacity": 0.06, "strokeWidth": 0},
      "encoding": {
        "x": {
          "field": "from", "type": "temporal",
          "scale": {"domain": [{"year": 2023, "month": 9, "date": 30, "hours": 7, "minutes": 40}, {"year": 2023, "month": 11, "date": 1, "hours": 7, "minutes": 26}], "nice": false},
          "axis": {
            "orient": "bottom", "title": null, "labels": false, "domain": false,
            "grid": true, "gridColor": "#dedede", "gridWidth": 1,
            "ticks": true, "tickColor": "#c4c4c4", "tickSize": 4,
            "values": [
              {"year": 2023, "month": 10, "date": 1, "hours": 2}, {"year": 2023, "month": 10, "date": 2, "hours": 2},
              {"year": 2023, "month": 10, "date": 3, "hours": 2}, {"year": 2023, "month": 10, "date": 4, "hours": 2},
              {"year": 2023, "month": 10, "date": 5, "hours": 2}, {"year": 2023, "month": 10, "date": 6, "hours": 2},
              {"year": 2023, "month": 10, "date": 7, "hours": 2}, {"year": 2023, "month": 10, "date": 8, "hours": 2},
              {"year": 2023, "month": 10, "date": 9, "hours": 2}, {"year": 2023, "month": 10, "date": 10, "hours": 2},
              {"year": 2023, "month": 10, "date": 11, "hours": 2}, {"year": 2023, "month": 10, "date": 12, "hours": 2},
              {"year": 2023, "month": 10, "date": 13, "hours": 2}, {"year": 2023, "month": 10, "date": 14, "hours": 2},
              {"year": 2023, "month": 10, "date": 15, "hours": 2}, {"year": 2023, "month": 10, "date": 16, "hours": 2},
              {"year": 2023, "month": 10, "date": 17, "hours": 2}, {"year": 2023, "month": 10, "date": 18, "hours": 2},
              {"year": 2023, "month": 10, "date": 19, "hours": 2}, {"year": 2023, "month": 10, "date": 20, "hours": 2},
              {"year": 2023, "month": 10, "date": 21, "hours": 2}, {"year": 2023, "month": 10, "date": 22, "hours": 2},
              {"year": 2023, "month": 10, "date": 23, "hours": 2}, {"year": 2023, "month": 10, "date": 24, "hours": 2},
              {"year": 2023, "month": 10, "date": 25, "hours": 2}, {"year": 2023, "month": 10, "date": 26, "hours": 2},
              {"year": 2023, "month": 10, "date": 27, "hours": 2}, {"year": 2023, "month": 10, "date": 28, "hours": 2},
              {"year": 2023, "month": 10, "date": 29, "hours": 2}, {"year": 2023, "month": 10, "date": 30, "hours": 2},
              {"year": 2023, "month": 10, "date": 31, "hours": 2}, {"year": 2023, "month": 11, "date": 1, "hours": 2}
            ]
          }
        },
        "x2": {"field": "to"}
      }
    },
    {
      "data": {"name": "rows"},
      "mark": {"type": "rect", "fill": "#000000", "fillOpacity": 0.06, "strokeWidth": 0},
      "encoding": {
        "y": {
          "field": "from", "type": "quantitative",
          "scale": {"domain": [-78.4, 186.9], "nice": false, "zero": false},
          "axis": {
            "orient": "left", "title": null, "labels": false, "domain": false,
            "grid": true, "gridColor": "#dedede", "gridWidth": 1,
            "ticks": true, "tickColor": "#c4c4c4", "tickSize": 4,
            "values": [-70, -60, -40, -30, -20, -10, 10, 20, 30, 40, 60, 70, 80, 90, 110, 120, 130, 140, 160, 170, 180]
          }
        },
        "y2": {"field": "to"}
      }
    },
    {
      "data": {"name": "levels"},
      "mark": {"type": "line", "strokeWidth": 2.8, "strokeJoin": "round"},
      "encoding": {
        "x": {
          "field": "time", "type": "temporal",
          "scale": {"domain": [{"year": 2023, "month": 9, "date": 30, "hours": 7, "minutes": 40}, {"year": 2023, "month": 11, "date": 1, "hours": 7, "minutes": 26}], "nice": false},
          "axis": {
            "orient": "bottom", "title": "Idő", "format": "%Y.%m.%d",
            "values": [
              {"year": 2023, "month": 10, "date": 1}, {"year": 2023, "month": 10, "date": 5},
              {"year": 2023, "month": 10, "date": 9}, {"year": 2023, "month": 10, "date": 13},
              {"year": 2023, "month": 10, "date": 17}, {"year": 2023, "month": 10, "date": 21},
              {"year": 2023, "month": 10, "date": 25}, {"year": 2023, "month": 10, "date": 29}
            ],
            "domain": false, "grid": true, "gridColor": "#b9b9b9", "gridWidth": 1,
            "tickColor": "#a8a8a8", "tickSize": 6,
            "labelFont": "Noto Sans", "labelFontSize": 11, "labelColor": "#333333", "labelPadding": 4, "labelFlush": false,
            "titleFont": "Noto Sans", "titleFontSize": 11, "titleFontWeight": "bold", "titleColor": "#333333", "titlePadding": 9
          }
        },
        "y": {
          "field": "level", "type": "quantitative",
          "scale": {"domain": [-78.4, 186.9], "nice": false, "zero": false},
          "axis": {
            "orient": "left", "title": "Vízállás [cm]", "values": [-50, 0, 50, 100, 150],
            "domain": false, "grid": true, "gridColor": "#b9b9b9", "gridWidth": 1,
            "tickColor": "#a8a8a8", "tickSize": 6,
            "labelFont": "Noto Sans", "labelFontSize": 14, "labelColor": "#333333", "labelPadding": 4,
            "titleFont": "Noto Sans", "titleFontSize": 11, "titleFontWeight": "bold", "titleColor": "#333333", "titlePadding": 6
          }
        },
        "color": {
          "field": "station", "type": "nominal",
          "scale": {
            "domain": ["Nagybajcs [3]", "Komárom [5]", "Budapest [1026]", "Paks [549]", "Baja [1344]", "Duna Dunaszekcső [832]", "Duna Mohács [831]"],
            "range": ["#000000", "#f59c34", "#f0501a", "#800080", "#008000", "#99ccff", "#0000ff"]
          },
          "legend": {
            "title": null, "orient": "none", "legendX": 0, "legendY": 589,
            "fillColor": "rgba(255,255,255,0.5)", "padding": 5,
            "symbolType": "M0,0H4.6", "symbolSize": 169, "symbolStrokeWidth": 2.2,
            "labelFont": "Noto Sans", "labelFontSize": 11, "labelFontWeight": "bold", "labelColor": "#444444",
            "labelOffset": 33, "rowPadding": 0
          }
        }
      }
    }
  ],
  "resolve": {"axis": {"x": "independent", "y": "independent"}}
}
